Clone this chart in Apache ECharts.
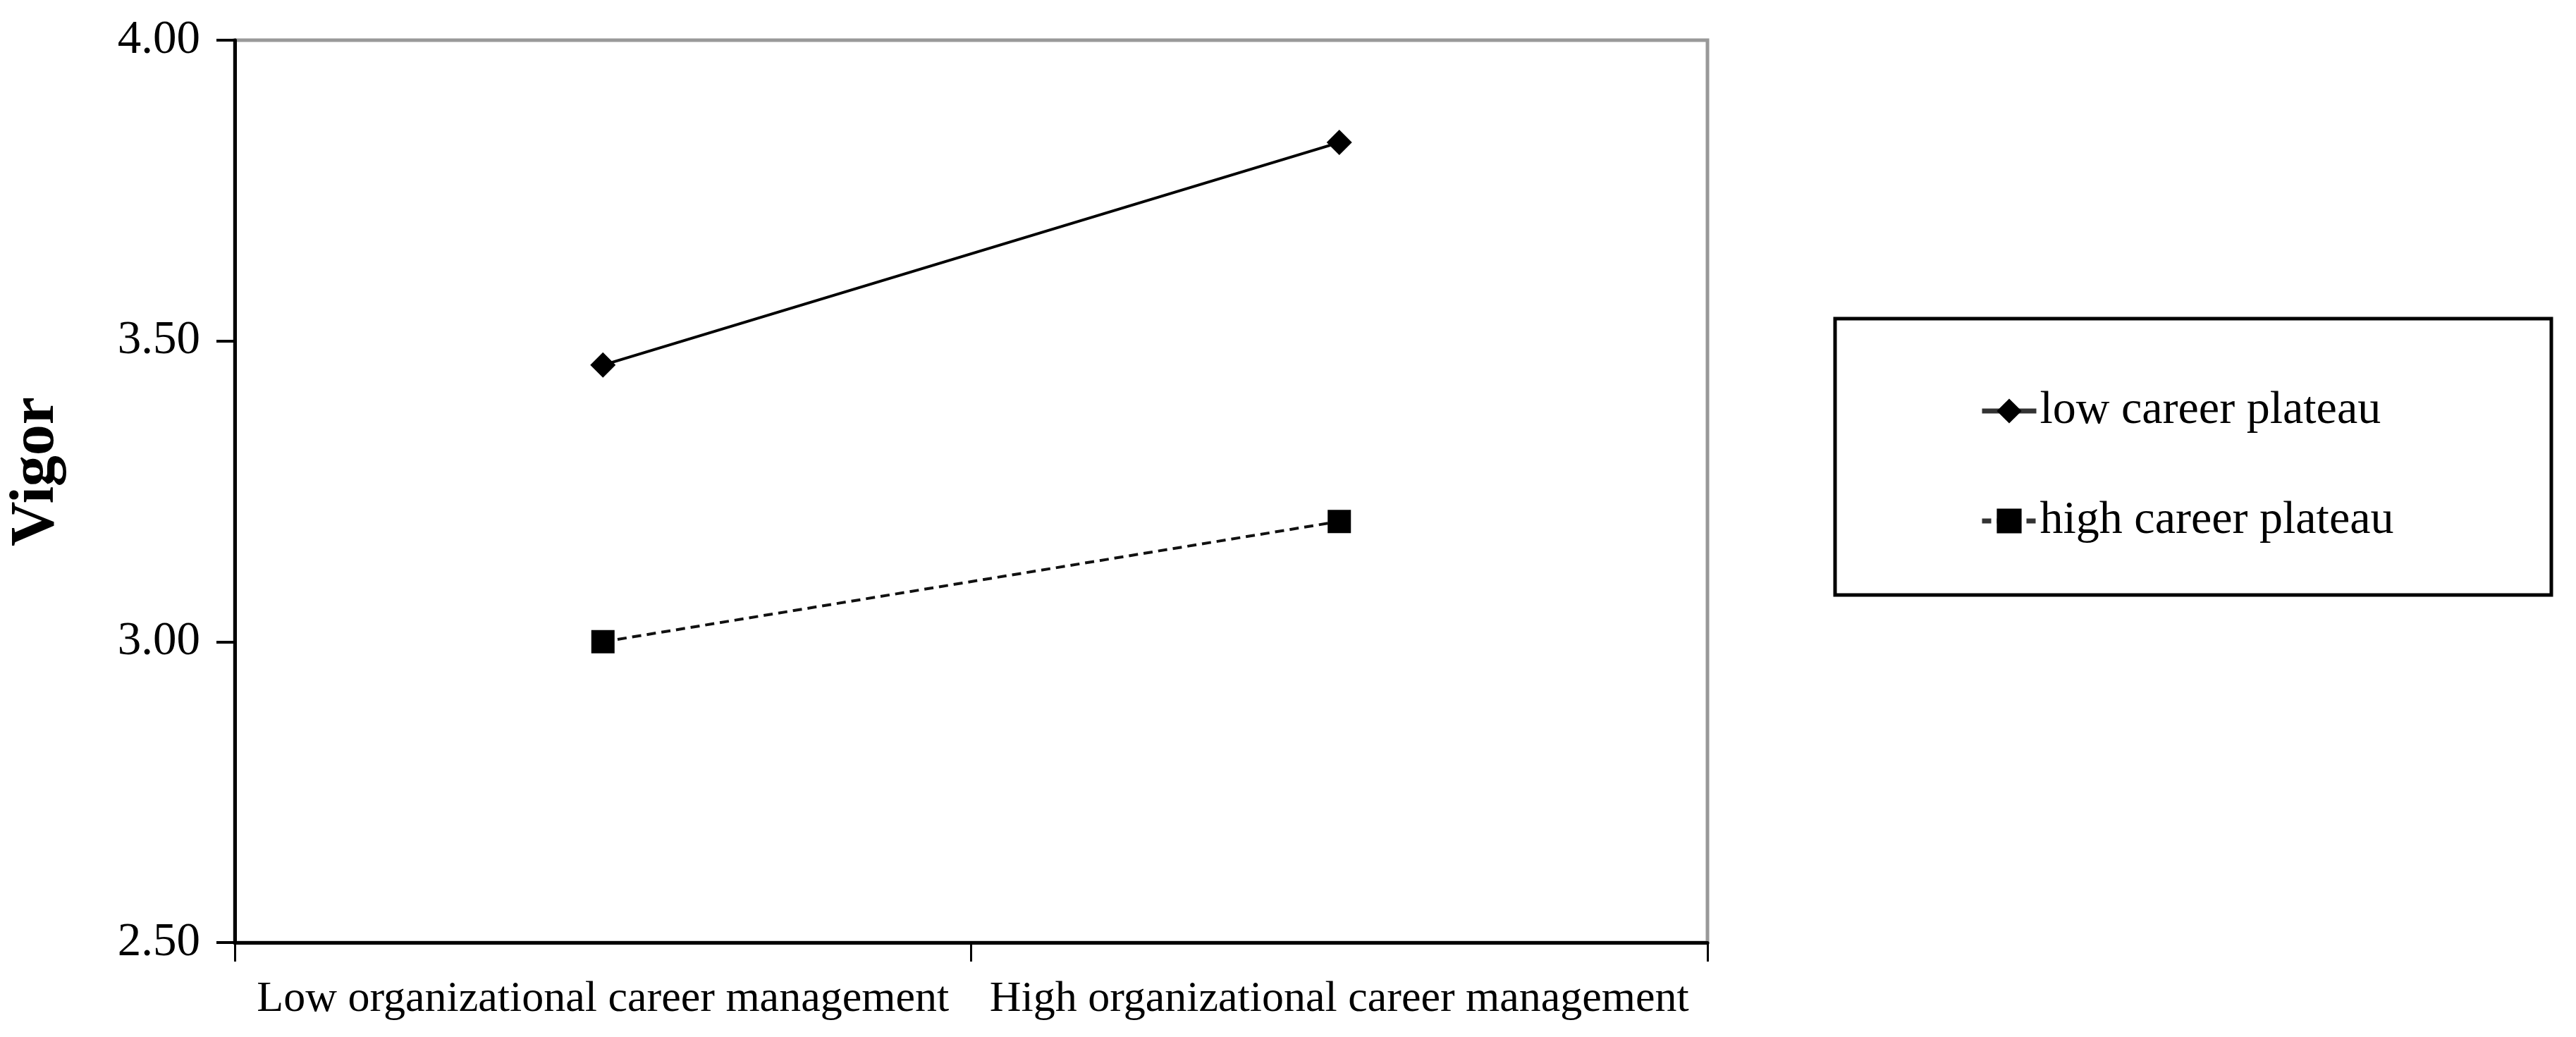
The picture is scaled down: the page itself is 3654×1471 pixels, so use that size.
<!DOCTYPE html>
<html>
<head>
<meta charset="utf-8">
<script src="https://cdn.jsdelivr.net/npm/echarts@6/dist/echarts.min.js"></script>
<style>
html,body{margin:0;padding:0;background:#fff;}
#chart{width:3654px;height:1471px;}
</style>
</head>
<body>
<div id="chart"></div>
<script>
const categories = ['Low organizational career management', 'High organizational career management'];
const lowPlateau = [3.46, 3.83];
const highPlateau = [3.00, 3.20];
const seriesNames = ['low career plateau', 'high career plateau'];
const yMin = 2.5, yMax = 4.0, yStep = 0.5;
const yTitle = 'Vigor';

const serif = '"Liberation Serif", "Times New Roman", serif';
const chart = echarts.init(document.getElementById('chart'));
chart.setOption({
  animation: false,
  backgroundColor: '#fff',
  grid: {
    left: 333, right: 1232, top: 57, bottom: 134,
    show: true, borderColor: '#999', borderWidth: 5, backgroundColor: 'transparent',
    outerBoundsMode: 'none'
  },
  xAxis: {
    type: 'category',
    data: categories,
    boundaryGap: true,
    axisLine: { lineStyle: { color: '#000', width: 5 } },
    axisTick: { show: true, length: 27, lineStyle: { color: '#000', width: 3 } },
    axisLabel: { color: '#000', fontFamily: serif, fontSize: 62, margin: 50, interval: 0 },
    splitLine: { show: false }
  },
  yAxis: {
    type: 'value',
    min: yMin, max: yMax, interval: yStep,
    axisLine: { show: true, lineStyle: { color: '#000', width: 5 } },
    axisTick: { show: true, length: 26, lineStyle: { color: '#000', width: 4 } },
    axisLabel: { color: '#000', fontFamily: serif, fontSize: 67, margin: 49,
      formatter: v => v.toFixed(2) },
    splitLine: { show: false }
  },
  legend: {
    orient: 'vertical',
    left: 2803, top: 545,
    itemWidth: 77, itemHeight: 44, itemGap: 90,
    lineStyle: { width: 7, color: '#333' },
    textStyle: { color: '#000', fontFamily: serif, fontSize: 66, lineHeight: 66 },
    data: seriesNames
  },
  graphic: [
    { type: 'rect', x: 2603, y: 452, shape: { width: 1016, height: 392 },
      style: { fill: 'none', stroke: '#000', lineWidth: 5 }, silent: true },
    { type: 'text', x: 52, y: 669, rotation: Math.PI / 2,
      style: { text: yTitle, font: 'bold 88px ' + serif, fill: '#000',
        align: 'center', verticalAlign: 'middle', textAlign: 'center', textVerticalAlign: 'middle' } }
  ],
  series: [
    {
      name: seriesNames[0], type: 'line', data: lowPlateau,
      symbol: 'diamond', symbolSize: 36,
      itemStyle: { color: '#000' },
      lineStyle: { color: '#000', width: 4, type: 'solid' }
    },
    {
      name: seriesNames[1], type: 'line', data: highPlateau,
      symbol: 'rect', symbolSize: 33,
      itemStyle: { color: '#000' },
      lineStyle: { color: '#111', width: 4, type: [13, 8] }
    }
  ]
});
</script>
</body>
</html>
